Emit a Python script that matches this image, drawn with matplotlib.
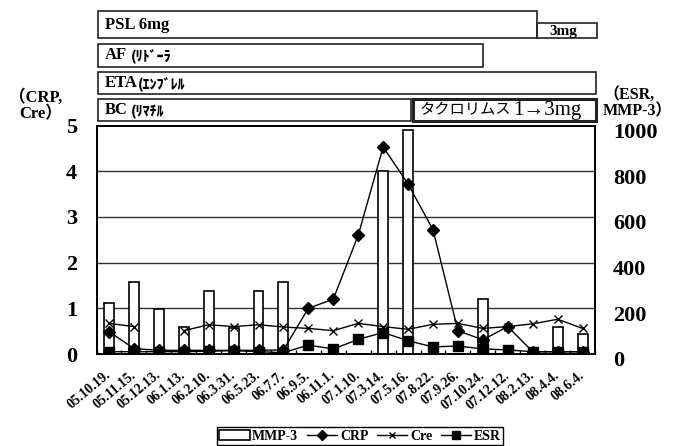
import numpy as np
import matplotlib as mpl, matplotlib.pyplot as plt
import matplotlib.transforms as mtransforms
from matplotlib.patches import Rectangle
from matplotlib.lines import Line2D

mpl.rcParams.update({"font.family": ["Liberation Serif", "Noto Sans CJK JP"], "font.weight": "bold",
                     "axes.linewidth": 1.2})

# ---- data ----
dates = ["05.10.19.", "05.11.15.", "05.12.13.", "06.1.13.", "06.2.10.", "06.3.31.", "06.5.23.", "06.7.7.",
         "06.9.5.", "06.11.1.", "07.1.10.", "07.3.14.", "07.5.16.", "07.8.22.", "07.9.26.", "07.10.24.",
         "07.12.12.", "08.2.13.", "08.4.4.", "08.6.4."]
nan = np.nan
mmp3 = [225, 314, 195, 117, 276, 115, 276, 314, nan, nan, nan, 800, 980, nan, nan, 240, nan, nan, 117, 88]
crp = [0.49, 0.12, 0.08, 0.08, 0.08, 0.08, 0.08, 0.09, 1.0, 1.2, 2.6, 4.53, 3.72, 2.72, 0.51, 0.31, 0.6,
       0.05, 0.05, 0.05]
cre = [0.67, 0.6, nan, 0.51, 0.64, 0.6, 0.64, 0.59, 0.56, 0.51, 0.67, 0.6, 0.54, 0.65, 0.67, 0.56, 0.6,
       0.66, 0.76, 0.56]
esr = [10, 10, 10, 10, 12, 15, 10, 6, 39, 22, 64, 94, 58, 31, 35, 22, 18, 10, 10, 10]
left_ticks = [0, 1, 2, 3, 4, 5]
right_ticks = [0, 200, 400, 600, 800, 1000]

W, H = 675, 446
fig = plt.figure(figsize=(W / 100, H / 100), dpi=100)
def fx(x): return x / W
def fy(y): return 1 - y / H

x = np.arange(len(dates))

# bars + grid on the right-hand (ESR, MMP-3) axis, drawn underneath
axb = fig.add_axes([fx(96.5), fy(354), fx(595) - fx(96.5), fy(125.5) - fy(354)])
axl = axb.twinx()   # CRP / Cre
axe = axb.twinx()   # ESR
axb.yaxis.tick_right(); axl.yaxis.tick_left(); axl.yaxis.set_label_position("left")
axb.set_zorder(1); axl.set_zorder(2); axe.set_zorder(3)
axl.patch.set_visible(False); axe.patch.set_visible(False)

for v in right_ticks[1:-1]:
    axb.axhline(v, color="#333", lw=1.0, zorder=0)
axb.bar(x, mmp3, 0.4, color="white", edgecolor="black", lw=1.2, zorder=2)
axb.set_ylim(0, 1000); axb.set_yticks(right_ticks)
axb.set_xlim(-0.5, len(dates) - 0.5)

axl.plot(x, crp, color="black", lw=1, marker="D", ms=6)
axl.plot(x, cre, color="black", lw=1, marker="x", ms=6, mew=1)
axl.set_ylim(0, 5); axl.set_yticks(left_ticks)

axe.plot(x, esr, color="black", lw=1, marker="s", ms=7)
axe.set_ylim(0, 1000); axe.set_yticks([])

for a in (axb, axl, axe):
    for s in a.spines.values(): s.set_color("black")
axb.tick_params(axis="y", length=0, pad=13, labelsize=16)
shift = mtransforms.ScaledTranslation(0, -5 / 100, fig.dpi_scale_trans)
for t in axb.get_yticklabels():
    t.set_horizontalalignment("left"); t.set_transform(t.get_transform() + shift)
axl.tick_params(axis="y", length=0, pad=14, labelsize=16)
axb.set_xticks(x)
axb.set_xticklabels(dates, rotation=40, ha="right", va="center", rotation_mode="anchor", fontsize=10)
axb.tick_params(axis="x", which="major", length=0, pad=14)
axb.set_xticks(np.arange(-0.5, len(dates), 1), minor=True)
axb.tick_params(axis="x", which="minor", direction="in", length=3, width=1)

# axis captions
fig.text(fx(62), fy(106), "（CRP,\nCre）", ha="right", va="center", fontsize=12, linespacing=1.05)
fig.text(fx(603), fy(103), "（ESR,\nMMP-3）", ha="left", va="center", fontsize=11.5, linespacing=1.0)

# treatment boxes on top
def box(x0, x1, y0, y1, lw=1.2):
    fig.patches.append(Rectangle((fx(x0), fy(y1)), fx(x1) - fx(x0), fy(y0) - fy(y1),
                                 transform=fig.transFigure, fill=False, ec="#222", lw=lw))
box(98, 537, 11, 38); box(537, 597, 23, 38)
box(98, 483, 44, 67); box(98, 596, 72, 94)
box(98, 411, 99, 121); box(413, 596, 99, 121, lw=2.2)
fig.text(fx(105), fy(25), "PSL 6mg", ha="left", va="center", fontsize=12)
fig.text(fx(549), fy(31), "3mg", ha="left", va="center", fontsize=11)
kata = dict(family="Noto Sans CJK JP", fontsize=10, weight="black", ha="left", va="center")
fig.text(fx(105), fy(55), "AF", ha="left", va="center", fontsize=12)
fig.text(fx(131), fy(57), "(ﾘﾄﾞｰﾗ", **kata)
fig.text(fx(105), fy(83), "ETA", ha="left", va="center", fontsize=12)
fig.text(fx(138), fy(85), "(ｴﾝﾌﾞﾚﾙ", **kata)
fig.text(fx(105), fy(110), "BC", ha="left", va="center", fontsize=12)
fig.text(fx(131), fy(112), "(ﾘﾏﾁﾙ", **kata)
fig.text(fx(420), fy(110), "タクロリムス", ha="left", va="center", fontsize=11, weight="normal",
         family="Noto Sans CJK JP")
fig.text(fx(513), fy(110), "1→3mg", ha="left", va="center", fontsize=15, weight="normal")

# legend
handles = [Rectangle((0, 0), 1, 1, fc="white", ec="black", lw=1.2),
           Line2D([], [], color="black", lw=1, marker="D", ms=5),
           Line2D([], [], color="black", lw=1, marker="x", ms=5, mew=1),
           Line2D([], [], color="black", lw=1, marker="s", ms=6)]
fig.legend(handles, ["MMP-3", "CRP", "Cre", "ESR"], loc="center", bbox_to_anchor=(fx(360), fy(436)),
           ncol=4, fontsize=10, frameon=True, fancybox=False, edgecolor="black", framealpha=1,
           handlelength=2.2, handletextpad=0.2, columnspacing=0.6, borderpad=0.15)

fig.savefig("out.png", dpi=100)
